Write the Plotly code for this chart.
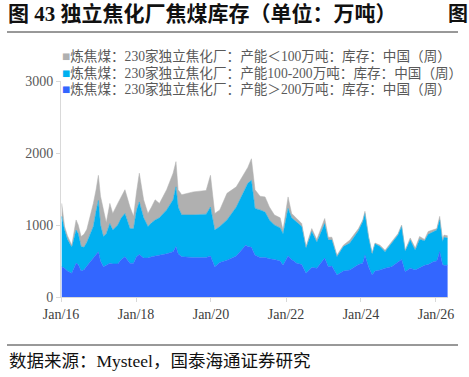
import plotly.graph_objects as go

dates = [
    "2016-01-08", "2016-02-05", "2016-03-04", "2016-04-15", "2016-05-27", "2016-06-17",
    "2016-07-15", "2016-08-12", "2016-09-09", "2016-10-14", "2016-11-11", "2016-12-09",
    "2016-12-30", "2017-01-20", "2017-02-17", "2017-03-17", "2017-04-21", "2017-05-19",
    "2017-07-07", "2017-08-11", "2017-09-15", "2017-11-03", "2017-12-08", "2018-01-05",
    "2018-02-02", "2018-03-16", "2018-04-27", "2018-06-01", "2018-07-06", "2018-08-17",
    "2018-10-26", "2018-12-28", "2019-01-25", "2019-02-15", "2019-03-22", "2019-07-12",
    "2019-11-15", "2019-12-27", "2020-02-07", "2020-03-27", "2020-06-05", "2020-09-04",
    "2020-12-04", "2020-12-25", "2021-01-29", "2021-03-05", "2021-04-23", "2021-06-11",
    "2021-07-23", "2021-09-10", "2021-11-05", "2021-12-03", "2022-01-21", "2022-02-25",
    "2022-04-15", "2022-06-03", "2022-07-15", "2022-09-09", "2022-10-28", "2023-01-13",
    "2023-02-17", "2023-03-24", "2023-05-12", "2023-07-14", "2023-09-15", "2023-12-08",
    "2024-01-19", "2024-02-09", "2024-03-15", "2024-04-19", "2024-05-17", "2024-07-05",
    "2024-08-23", "2024-10-25", "2024-12-27", "2025-01-31", "2025-03-07", "2025-04-25",
    "2025-06-13", "2025-07-25", "2025-09-12", "2025-10-17", "2025-12-05", "2026-01-09",
    "2026-02-06", "2026-03-06", "2026-03-20", "2026-04-24",
]

# 产能>200万吨
big = [420, 400, 360, 330, 470, 450, 360, 380, 430, 490, 540, 590,
       630, 500, 420, 440, 470, 460, 460, 520, 560, 470, 470, 560,
       590, 540, 540, 560, 570, 580, 600, 630, 700, 600, 560, 550,
       550, 570, 420, 480, 510, 570, 720, 700, 690, 580, 550, 550,
       530, 520, 500, 440, 570, 520, 470, 450, 330, 410, 400, 540,
       420, 430, 305, 360, 375, 450, 470, 580, 420, 305, 360, 375,
       400, 420, 480, 520, 352, 400, 375, 410, 440, 450, 490, 500,
       630, 450, 440, 440]

# 产能100-200万吨
mid = [700, 530, 440, 360, 460, 430, 340, 310, 330, 390, 440, 610,
       710, 500, 420, 440, 550, 470, 540, 580, 600, 480, 480, 640,
       730, 560, 440, 470, 500, 520, 610, 720, 830, 650, 580, 590,
       600, 680, 510, 500, 560, 680, 780, 880, 930, 650, 660, 630,
       540, 480, 460, 440, 660, 580, 570, 530, 350, 500, 360, 480,
       370, 360, 255, 340, 375, 470, 580, 580, 410, 295, 380, 325,
       230, 330, 380, 460, 288, 390, 275, 390, 340, 420, 420, 430,
       440, 320, 390, 380]

# 产能<100万吨
small = [180, 50, 50, 30, 140, 120, 140, 180, 180, 250, 320, 300,
         350, 400, 360, 150, 280, 230, 300, 300, 330, 300, 170, 250,
         400, 250, 180, 220, 280, 200, 280, 370, 350, 240, 280, 320,
         330, 440, 230, 230, 370, 280, 260, 220, 300, 260, 190, 210,
         180, 140, 140, 50, 160, 60, 50, 40, 20, 40, 40, 70,
         40, 40, 20, 20, 40, 30, 20, 30, 10, 10, 10, 20,
         20, 20, 20, 20, 10, 30, 30, 40, 20, 40, 20, 20,
         50, 30, 30, 30]

names = [
    "炼焦煤：230家独立焦化厂：产能＜100万吨：库存：中国（周）",
    "炼焦煤：230家独立焦化厂：产能100-200万吨：库存：中国（周）",
    "炼焦煤：230家独立焦化厂：产能＞200万吨：库存：中国（周）",
]
colors = ["#B0B0B0", "#00B0F0", "#3366FF"]

W, H = 469, 377
L, R, T, B = 61, 21, 81, 80
PW, PH = W - L - R, H - T - B


def px(x):
    return (x - L) / PW


def py(y):
    return 1 - (y - T) / PH


FONT = "Liberation Serif, Noto Sans CJK SC, serif"

fig = go.Figure()
for vals, name, col in [(big, names[2], colors[2]), (mid, names[1], colors[1]), (small, names[0], colors[0])]:
    fig.add_trace(go.Scatter(
        x=dates, y=vals, name=name, stackgroup="one", mode="lines",
        line=dict(width=0.5, color=col), fillcolor=col, showlegend=False,
    ))

# legend as text entries
leg_y = [56, 73, 89]
for i in range(3):
    fig.add_annotation(
        x=px(60), y=py(leg_y[i]), xref="paper", yref="paper",
        xanchor="left", yanchor="middle", showarrow=False,
        text=f'<span style="color:{colors[i]}">■</span>{names[i]}',
        font=dict(family=FONT, size=13.6, color="#595959"),
    )

fig.add_annotation(
    x=px(6), y=py(14), xref="paper", yref="paper", xanchor="left", yanchor="middle",
    showarrow=False, text="<b>图 43 独立焦化厂焦煤库存（单位：万吨）</b>",
    font=dict(family=FONT, size=21, color="#111111"),
)
fig.add_annotation(
    x=px(446), y=py(14), xref="paper", yref="paper", xanchor="left", yanchor="middle",
    showarrow=False, text="<b>图</b>",
    font=dict(family=FONT, size=20, color="#111111"),
)
fig.add_annotation(
    x=px(7), y=py(361), xref="paper", yref="paper", xanchor="left", yanchor="middle",
    showarrow=False, text="数据来源：Mysteel，国泰海通证券研究",
    font=dict(family=FONT, size=17.5, color="#111111"),
)
for yy in (32, 345):
    fig.add_shape(type="line", xref="paper", yref="paper",
                  x0=px(7), x1=px(458), y0=py(yy), y1=py(yy),
                  line=dict(color="#333333", width=1))

fig.update_layout(
    width=W, height=H,
    margin=dict(l=L, r=R, t=T, b=B),
    plot_bgcolor="white", paper_bgcolor="white",
    showlegend=False,
    font=dict(family=FONT, size=14, color="#595959"),
)
fig.update_xaxes(
    range=["2016-01-01", "2026-04-28"], type="date",
    tick0="2016-01-01", dtick="M24", tickformat="%b/%y",
    showgrid=False, showline=True, linecolor="#D9D9D9", linewidth=1,
    ticks="outside", ticklen=4, tickcolor="#D9D9D9",
    tickfont=dict(family=FONT, size=14, color="#404040"),
)
fig.update_yaxes(
    range=[0, 3000], tickvals=[0, 1000, 2000, 3000],
    showgrid=False, showline=True, linecolor="#D9D9D9", linewidth=1,
    ticks="outside", ticklen=4, tickcolor="#D9D9D9", zeroline=False,
    tickfont=dict(family=FONT, size=14, color="#595959"),
)

fig.write_html("out.html")
